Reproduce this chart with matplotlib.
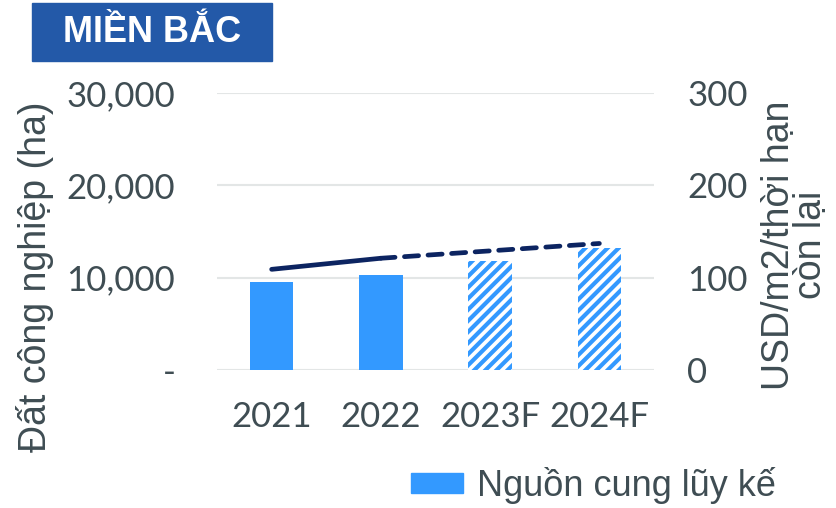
import matplotlib

matplotlib.use("Agg")

import matplotlib.pyplot as plt
from matplotlib.patches import Rectangle

years = ["2021", "2022", "2023F", "2024F"]
supply_ha = [9550, 10300, 11800, 13200]
is_forecast = [False, False, True, True]
rent_usd = [109, 121, 129, 137]

BAR_COLOR = "#3399ff"
LINE_COLOR = "#0c2461"
TEXT_COLOR = "#3f4d53"
GRID_COLOR = "#e3e6e6"

plt.rcParams["hatch.linewidth"] = 3.0
plt.rcParams["font.family"] = ["Lato", "DejaVu Sans"]

fig = plt.figure(figsize=(8.36, 5.08), dpi=100)
ax = fig.add_axes([0.2596, 0.2717, 0.5227, 0.5453])

x = list(range(len(years)))
for xi, val, fc in zip(x, supply_ha, is_forecast):
    if fc:
        ax.bar(xi, val, width=0.4, facecolor="white", edgecolor=BAR_COLOR,
               hatch="///", linewidth=0)
    else:
        ax.bar(xi, val, width=0.4, color=BAR_COLOR)

ax.set_xlim(-0.5, len(years) - 0.5)
ax.set_ylim(0, 30000)
ax.set_yticks([0, 10000, 20000, 30000])
ax.set_yticklabels(["-", "10,000", "20,000", "30,000"])
ax.set_xticks(x)
ax.set_xticklabels(years)
ax.grid(axis="y", color=GRID_COLOR, linewidth=1.5)
ax.set_axisbelow(True)
for s in ax.spines.values():
    s.set_visible(False)
ax.tick_params(length=0, labelsize=25, labelcolor=TEXT_COLOR)
ax.tick_params(axis="x", pad=22)
ax.tick_params(axis="y", pad=30)

ax2 = ax.twinx()
ax2.set_ylim(0, 300)
ax2.set_yticks([0, 100, 200, 300])
ax2.plot(x[:2], rent_usd[:2], color=LINE_COLOR, linewidth=3.4,
         solid_capstyle="round")
ax2.plot(x[1:], rent_usd[1:], color=LINE_COLOR, linewidth=3.4,
         linestyle=(0, (3, 2)), dash_capstyle="round")
for s in ax2.spines.values():
    s.set_visible(False)
ax2.tick_params(length=0, labelsize=25, labelcolor=TEXT_COLOR, pad=24)

# axis titles
fig.text(35 / 836, 1 - 277 / 508, "Đất công nghiệp (ha)", rotation=90,
         fontsize=27, color=TEXT_COLOR, family="Liberation Sans",
         ha="center", va="center")
fig.text(795 / 836, 1 - 245 / 508, "USD/m2/thời hạn\ncòn lại", rotation=90,
         fontsize=27, color=TEXT_COLOR, family="Liberation Sans",
         ha="center", va="center", multialignment="center", linespacing=0.88)

# title box
fig.patches.append(Rectangle((32 / 836, 1 - 61 / 508), 240 / 836, 58 / 508,
                             transform=fig.transFigure, color="#2359a8"))
fig.text(152 / 836, 1 - 32 / 508, "MIỀN BẮC", color="white", fontsize=26,
         fontweight="bold", family="Liberation Sans", ha="center", va="center")

# legend
fig.patches.append(Rectangle((411 / 836, 1 - 493 / 508), 52 / 836, 20 / 508,
                             transform=fig.transFigure, color=BAR_COLOR))
fig.text(477 / 836, 1 - 486 / 508, "Nguồn cung lũy kế", color=TEXT_COLOR,
         fontsize=26, family="Liberation Sans", ha="left", va="center")

fig.savefig("out.png", dpi=100)
